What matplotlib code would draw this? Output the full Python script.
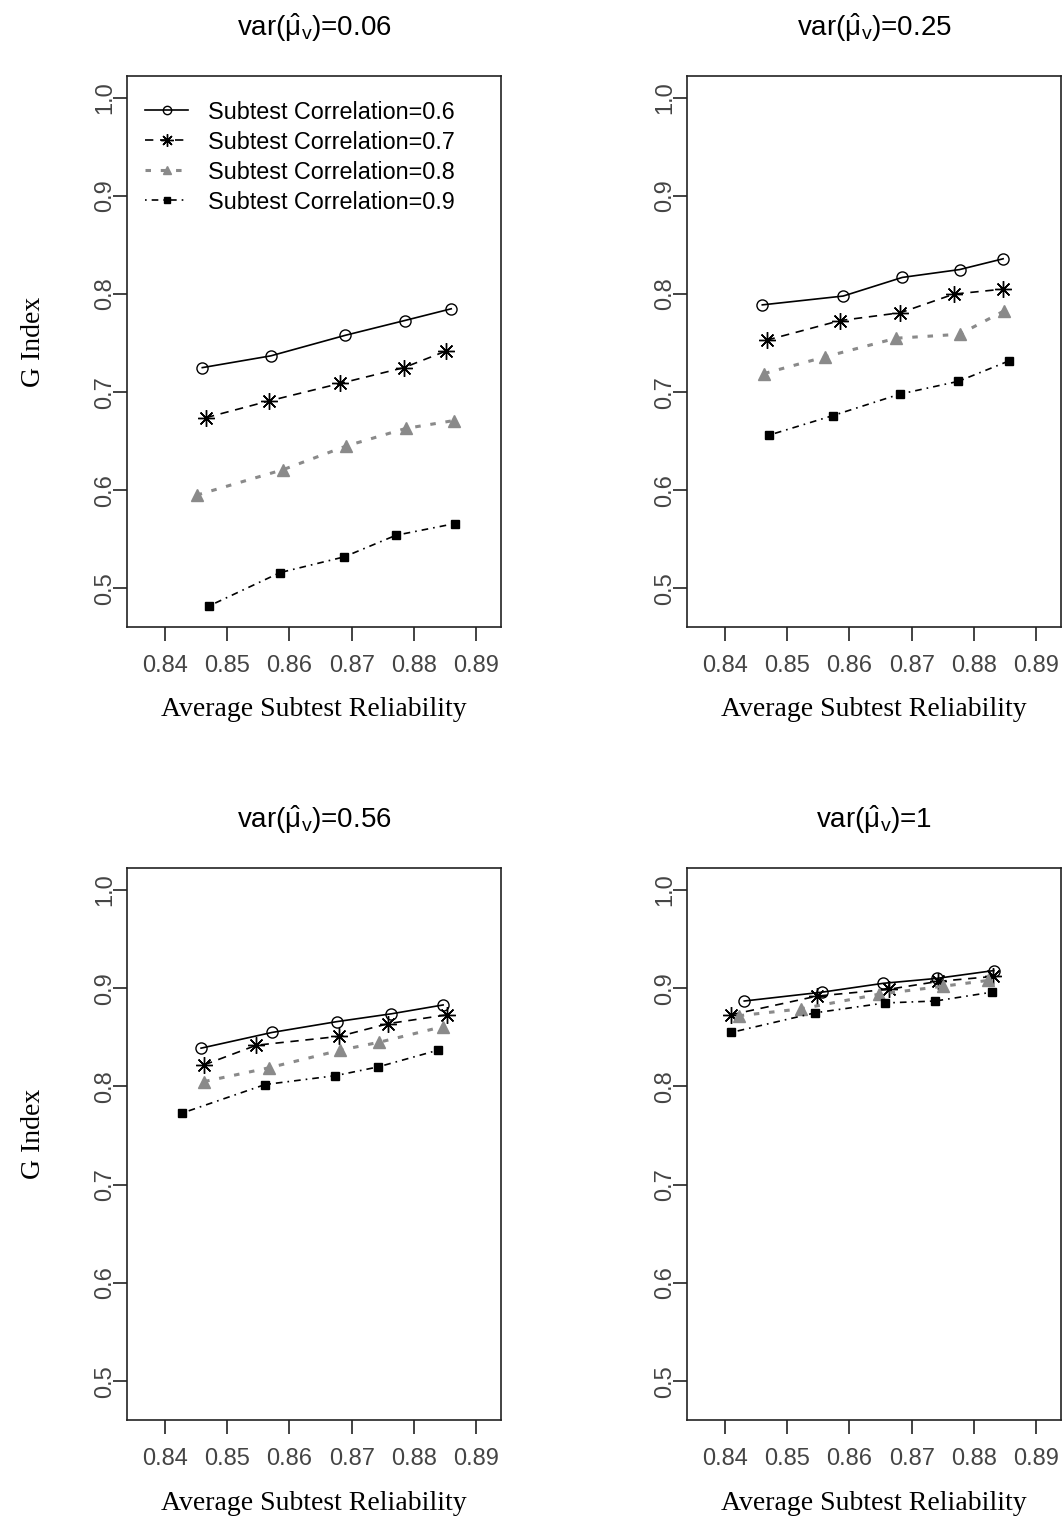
import matplotlib.pyplot as plt

plt.rcParams['font.family'] = ['Liberation Sans', 'DejaVu Sans']
plt.rcParams['mathtext.fontset'] = 'custom'
plt.rcParams['mathtext.rm'] = 'Liberation Sans'
plt.rcParams['mathtext.it'] = 'Liberation Sans:italic'

# legend labels (one per subtest correlation)
corr_labels = ['Subtest Correlation=0.6', 'Subtest Correlation=0.7',
               'Subtest Correlation=0.8', 'Subtest Correlation=0.9']
panel_vars = ['0.06', '0.25', '0.56', '1']

# average subtest reliability (x) and G index (y), rows = correlation 0.6..0.9
rel_006 = [[0.8460, 0.8570, 0.8690, 0.8785, 0.8860],
           [0.8466, 0.8567, 0.8682, 0.8784, 0.8852],
           [0.8451, 0.8590, 0.8691, 0.8787, 0.8864],
           [0.8471, 0.8585, 0.8688, 0.8771, 0.8866]]
g_006 = [[0.725, 0.737, 0.758, 0.773, 0.785],
         [0.674, 0.691, 0.709, 0.725, 0.742],
         [0.595, 0.621, 0.645, 0.663, 0.671],
         [0.482, 0.516, 0.532, 0.554, 0.566]]

rel_025 = [[0.8460, 0.8590, 0.8685, 0.8777, 0.8847],
           [0.8467, 0.8585, 0.8682, 0.8768, 0.8846],
           [0.8463, 0.8561, 0.8675, 0.8777, 0.8849],
           [0.8470, 0.8573, 0.8681, 0.8775, 0.8857]]
g_025 = [[0.789, 0.798, 0.817, 0.825, 0.836],
         [0.753, 0.773, 0.781, 0.800, 0.805],
         [0.719, 0.736, 0.755, 0.759, 0.783],
         [0.656, 0.676, 0.698, 0.711, 0.732]]

rel_056 = [[0.8458, 0.8572, 0.8676, 0.8764, 0.8847],
           [0.8463, 0.8547, 0.8680, 0.8759, 0.8854],
           [0.8463, 0.8567, 0.8682, 0.8744, 0.8847],
           [0.8428, 0.8561, 0.8674, 0.8743, 0.8839]]
g_056 = [[0.839, 0.855, 0.866, 0.874, 0.883],
         [0.822, 0.842, 0.851, 0.864, 0.873],
         [0.805, 0.819, 0.837, 0.845, 0.861],
         [0.773, 0.802, 0.811, 0.820, 0.837]]

rel_1 = [[0.8431, 0.8556, 0.8654, 0.8740, 0.8832],
         [0.8410, 0.8548, 0.8664, 0.8743, 0.8831],
         [0.8422, 0.8522, 0.8648, 0.8750, 0.8823],
         [0.8410, 0.8545, 0.8657, 0.8738, 0.8829]]
g_1 = [[0.887, 0.896, 0.905, 0.910, 0.918],
       [0.873, 0.892, 0.899, 0.907, 0.912],
       [0.872, 0.879, 0.894, 0.902, 0.908],
       [0.855, 0.875, 0.885, 0.887, 0.896]]

x_ticks = [0.84, 0.85, 0.86, 0.87, 0.88, 0.89]
y_ticks = [0.5, 0.6, 0.7, 0.8, 0.9, 1.0]

panels = [(rel_006, g_006), (rel_025, g_025), (rel_056, g_056), (rel_1, g_1)]

# line / marker styles for the four correlations (R lty 1..4, pch 1, 8, 17, 15)
grey = '#8a8a8a'
styles = [
    dict(color='black', ls='-', lw=1.2, marker='o', ms=8, mfc='none', mec='black', mew=1.0),
    dict(color='black', ls=(0, (5, 4)), lw=1.2, marker=(8, 2, 0), ms=12, mec='black', mew=1.0),
    dict(color=grey, ls=(0, (1.8, 3.2)), lw=2.2, marker='^', ms=8, mfc=grey, mec=grey),
    dict(color='black', ls=(0, (1, 3, 4, 3)), lw=1.2, marker='s', ms=5.5, mfc='black', mec='black'),
]

W, H = 1063, 1529
fig = plt.figure(figsize=(W / 100, H / 100), dpi=100)

# axes boxes in pixel coords: (left, top, right, bottom)
boxes = [(127, 76, 501, 627), (687, 76, 1061, 627),
         (127, 868, 501, 1420), (687, 868, 1061, 1420)]

tick_col = '#444444'
for i, ((xs, ys), (l, t, r, b)) in enumerate(zip(panels, boxes)):
    ax = fig.add_axes([l / W, 1 - b / H, (r - l) / W, (b - t) / H])
    for k in range(4):
        ax.plot(xs[k], ys[k], label=corr_labels[k], **styles[k])
    ax.set_xlim(0.8339, 0.8940)
    ax.set_ylim(0.4605, 1.0224)
    ax.set_xticks(x_ticks)
    ax.set_xticklabels(['%.2f' % v for v in x_ticks])
    ax.set_yticks(y_ticks)
    ax.set_yticklabels(['%.1f' % v for v in y_ticks], rotation=90, va='center')
    ax.tick_params(direction='out', length=10, width=1.2, labelsize=17,
                   labelcolor=tick_col, color='#222222')
    ax.tick_params(axis='x', pad=10)
    ax.tick_params(axis='y', pad=-2.5)
    for s in ax.spines.values():
        s.set_linewidth(1.2)
        s.set_color('#222222')

    cx = (l + r) / 2
    fig.text(cx / W, 1 - (t - 48) / H,
             r'var($\hat{\mathrm{\mu}}_{\mathrm{v}}$)=' + panel_vars[i],
             ha='center', va='center', fontsize=20)
    fig.text(cx / W, 1 - (b + 83) / H, 'Average Subtest Reliability',
             ha='center', va='center', fontsize=20, family='Liberation Serif')
    if i % 2 == 0:
        fig.text(34 / W, 1 - ((t + b) / 2 - 10) / H, 'G Index', rotation=90,
                 ha='center', va='center', fontsize=20, family='Liberation Serif')

    if i == 0:
        ax.legend(loc='upper left', bbox_to_anchor=(0.005, 0.985), frameon=False,
                  fontsize=16.8, handlelength=1.85, handletextpad=0.86,
                  labelspacing=0.3, borderaxespad=0.3, markerscale=0.75)

fig.savefig('out.png', dpi=100)
